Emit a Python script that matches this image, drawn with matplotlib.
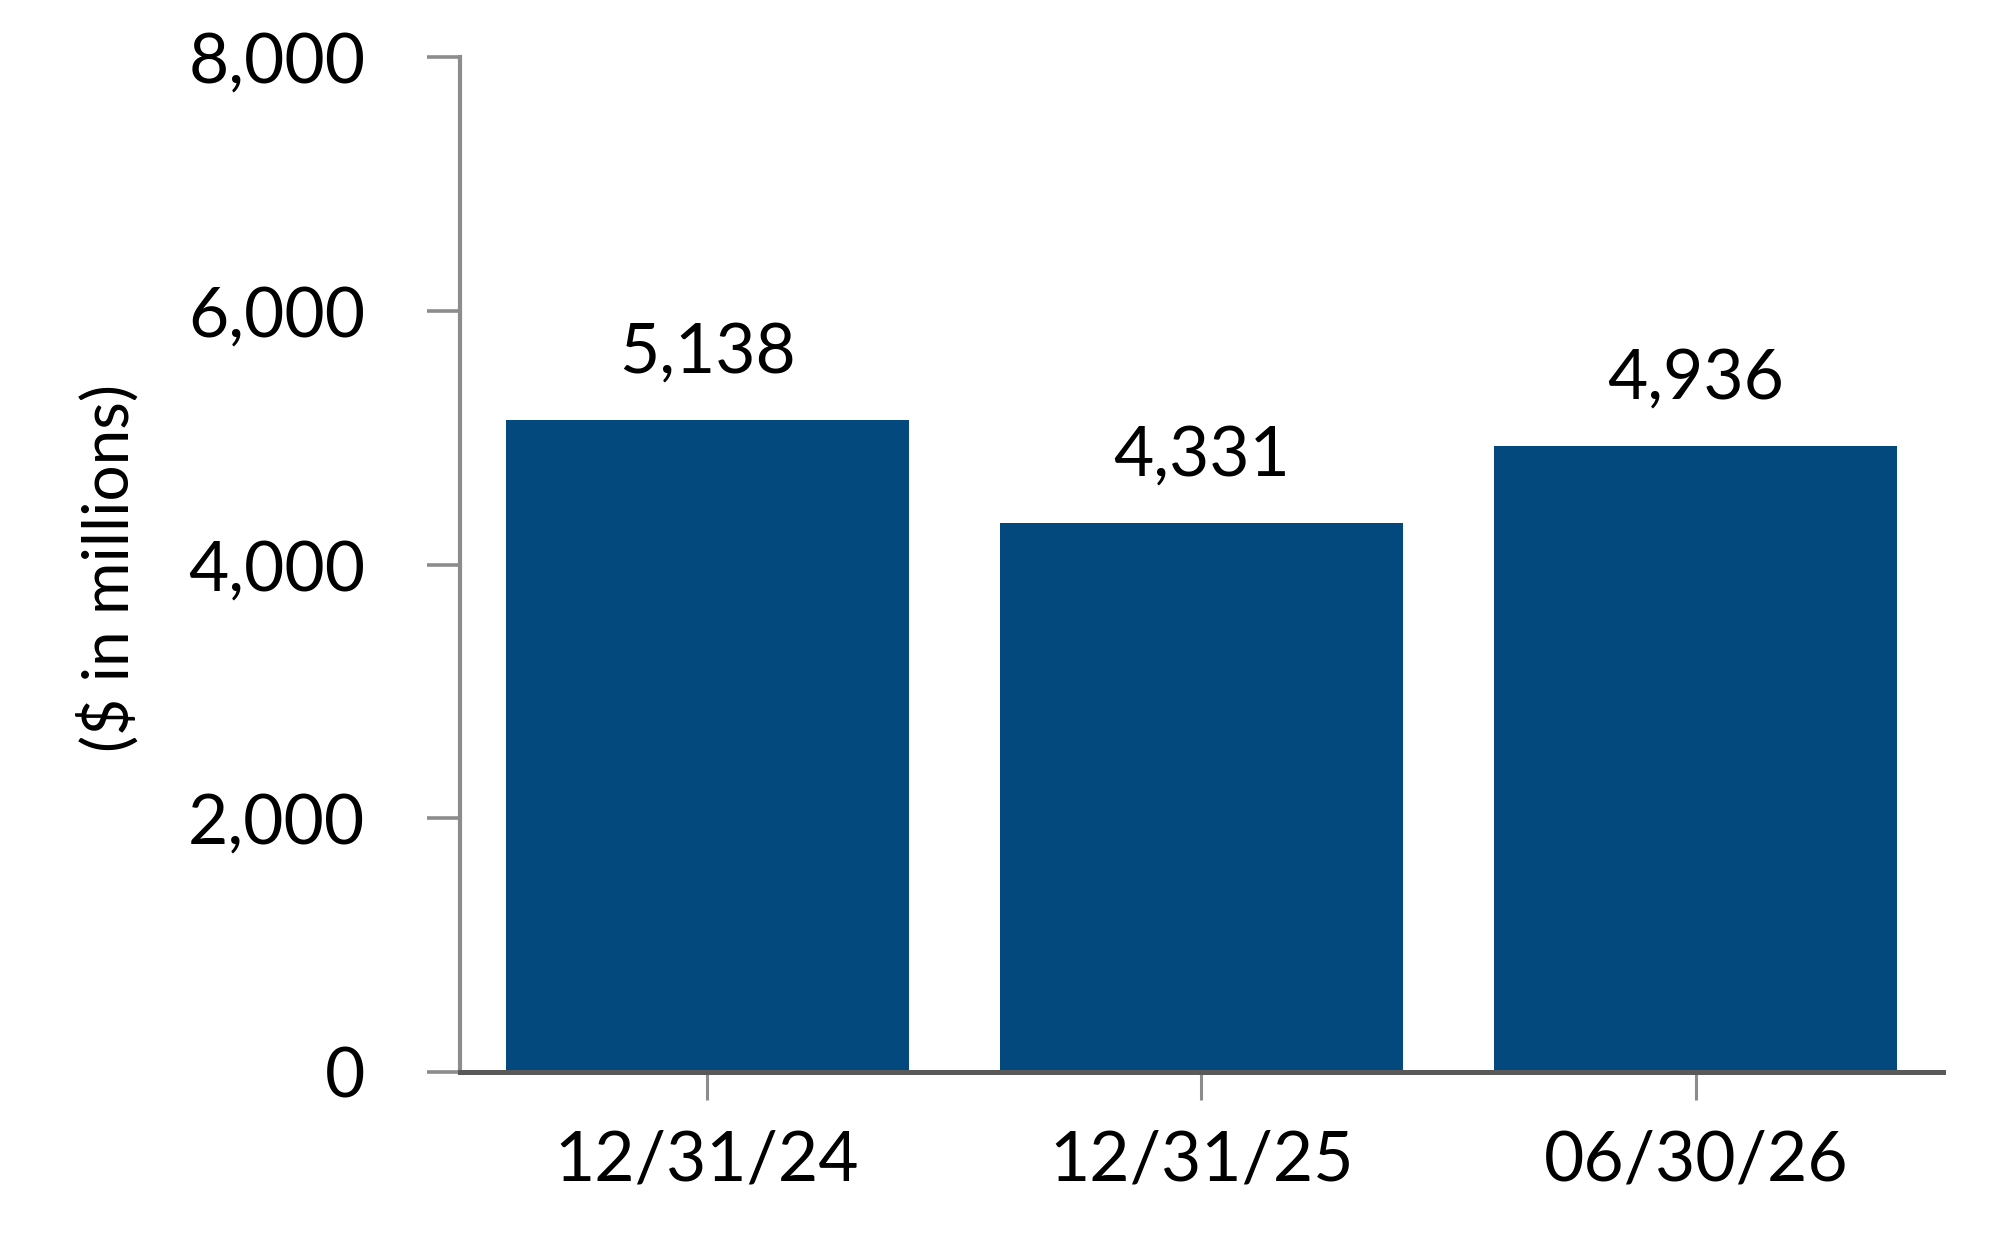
import matplotlib
matplotlib.use("Agg")
import matplotlib.pyplot as plt
from matplotlib.ticker import FuncFormatter

categories = ["12/31/24", "12/31/25", "06/30/26"]
values = [5138, 4331, 4936]
yticks = [0, 2000, 4000, 6000, 8000]

plt.rcParams['font.family'] = ['Lato', 'DejaVu Sans']

fig = plt.figure(figsize=(20.04, 12.6), dpi=100)
ax = fig.add_axes([0.2295, 0.149, 0.740, 0.8058])

bar_color = "#03497E"
x = list(range(len(categories)))
ax.bar(x, values, width=0.815, color=bar_color, zorder=2)

for xi, v in zip(x, values):
    ax.annotate(f"{v:,}", xy=(xi, v), xytext=(0, 34), textcoords="offset points",
                ha="center", va="baseline", fontsize=50, color="black")

ax.set_xlim(-0.5, 2.5)
ax.set_ylim(0, 8000)
ax.set_yticks(yticks)
ax.yaxis.set_major_formatter(FuncFormatter(lambda v, p: f"{int(v):,}"))
ax.set_xticks(x)
ax.set_xticklabels(categories)

for s in ["top", "right"]:
    ax.spines[s].set_visible(False)
ax.spines["left"].set_color("#8c8c8c")
ax.spines["left"].set_linewidth(3)
ax.spines["bottom"].set_color("#595959")
ax.spines["bottom"].set_linewidth(3.6)
ax.spines["bottom"].set_zorder(3)

ax.tick_params(axis="y", direction="out", length=24, width=2.6, color="#8c8c8c",
               labelsize=50, pad=44, labelcolor="black")
ax.tick_params(axis="x", direction="out", length=20, width=2.2, color="#8c8c8c",
               labelsize=50, pad=21, labelcolor="black")

ax.set_ylabel("($ in millions)", fontsize=46, color="black")
ax.yaxis.set_label_coords(-0.216, 0.497)

fig.savefig("out.png", dpi=100, facecolor="white")
